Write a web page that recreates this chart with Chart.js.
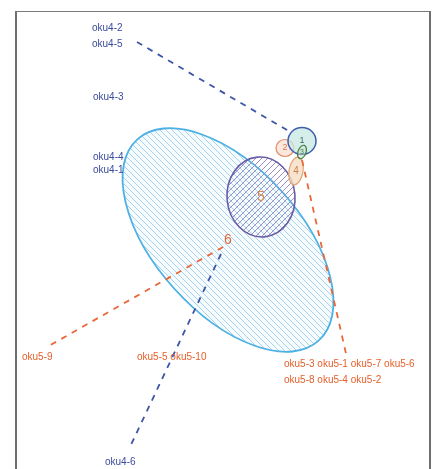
<!DOCTYPE html>
<html>
<head>
<meta charset="utf-8">
<script src="https://cdn.jsdelivr.net/npm/chart.js@4/dist/chart.umd.min.js"></script>
<style>
  html, body { margin: 0; padding: 0; background: #fff; }
  #wrap { position: relative; width: 432px; height: 469px; overflow: hidden; }
  #frame { position: absolute; left: 15px; top: 11px; width: 416px; height: 470px;
           border: 2px solid #6e6e6e; border-top: 1.5px solid #7a7a7a; border-bottom: none;
           box-sizing: border-box; pointer-events: none; }
  canvas { position: absolute; left: 0; top: 0; }
</style>
</head>
<body>
<div id="wrap">
  <canvas id="c" width="432" height="469"></canvas>
  <div id="frame"></div>
</div>
<script>
// Cluster ellipses (centre, semi-axes, rotation in degrees, counter-clockwise)
const clusterIds    = ['1', '2', '3', '4', '5', '6'];
const clusterX      = [1.48, 1.14, 1.48, 1.36, 0.66, 0.00];
const clusterY      = [1.98, 1.84, 1.76, 1.38, 0.86, 0.00];
const clusterMajor  = [0.28, 0.18, 0.14, 0.28, 0.80, 2.71];
const clusterMinor  = [0.27, 0.17, 0.08, 0.14, 0.68, 1.45];
const clusterAngle  = [0, 0, 70, 80, 95, -48];

// Leaf labels and where they sit
const leafGroupA  = ['oku4-2', 'oku4-5', 'oku4-3', 'oku4-4', 'oku4-1', 'oku4-6'];
const leafGroupAX = [-2.72, -2.72, -2.70, -2.70, -2.70, -2.46];
const leafGroupAY = [4.24, 3.92, 2.86, 1.66, 1.40, -4.44];

const leafGroupB  = ['oku5-9', 'oku5-5 oku5-10', 'oku5-3 oku5-1 oku5-7 oku5-6', 'oku5-8 oku5-4 oku5-2'];
const leafGroupBX = [-4.12, -1.82, 1.12, 1.12];
const leafGroupBY = [-2.34, -2.34, -2.48, -2.80];

// Connector segments from clusters to outlying leaves
const linkA1 = [[-1.82, 3.96], [1.28, 2.14]];
const linkA2 = [[-0.14, -0.28], [-1.98, -4.18]];
const linkB1 = [[1.48, 1.60], [2.38, -2.36]];
const linkB2 = [[-0.10, -0.14], [-3.62, -2.14]];

const BLUE_TXT = '#3b4b9e';
const RED_TXT = '#e5602c';

function hatch(color, dir, gap, bg) {
  const p = document.createElement('canvas');
  p.width = gap; p.height = gap;
  const g = p.getContext('2d');
  if (bg) { g.fillStyle = bg; g.fillRect(0, 0, gap, gap); }
  g.strokeStyle = color; g.lineWidth = 1;
  g.beginPath();
  if (dir === '\\') {
    g.moveTo(0, 0); g.lineTo(gap, gap);
    g.moveTo(-1, gap - 1); g.lineTo(1, gap + 1);
    g.moveTo(gap - 1, -1); g.lineTo(gap + 1, 1);
  } else {
    g.moveTo(0, gap); g.lineTo(gap, 0);
    g.moveTo(-1, 1); g.lineTo(1, -1);
    g.moveTo(gap - 1, gap + 1); g.lineTo(gap + 1, gap - 1);
  }
  g.stroke();
  return p;
}

const ctxMain = document.getElementById('c').getContext('2d');
const clusterStyle = [
  { stroke: '#3d5fae', fill: 'rgba(200,232,226,0.75)', width: 1.5, num: '#3f6a60', size: 9 },
  { stroke: '#e58a62', fill: 'rgba(248,222,208,0.7)', width: 1.2, num: '#e07a50', size: 9 },
  { stroke: '#3f7a4a', fill: 'rgba(200,225,200,0.5)', width: 1.2, num: '#3f7a4a', size: 7 },
  { stroke: '#e2a272', fill: 'rgba(245,222,196,0.8)', width: 1.2, num: '#d0804a', size: 10 },
  { stroke: '#6b5ca6', fill: ctxMain.createPattern(hatch('#9a8ec8', '/', 6), 'repeat'), width: 1.6, num: '#d4874f', size: 14 },
  { stroke: '#4cb1e2', fill: ctxMain.createPattern(hatch('#a9d2ee', '\\', 6, 'rgba(240,248,253,0.6)'), 'repeat'), width: 1.8, num: '#e2683a', size: 14 }
];

const drawOrder = [5, 4, 1, 3, 0, 2];

const ellipsePlugin = {
  id: 'clusterEllipses',
  beforeDatasetsDraw(chart) {
    const { ctx, scales: { x, y } } = chart;
    const ux = x.getPixelForValue(1) - x.getPixelForValue(0);
    const uy = y.getPixelForValue(0) - y.getPixelForValue(1);
    ctx.save();
    drawOrder.forEach(i => {
      const s = clusterStyle[i];
      const cx = x.getPixelForValue(clusterX[i]);
      const cy = y.getPixelForValue(clusterY[i]);
      ctx.beginPath();
      ctx.ellipse(cx, cy, clusterMajor[i] * ux, clusterMinor[i] * uy,
                  -clusterAngle[i] * Math.PI / 180, 0, Math.PI * 2);
      ctx.fillStyle = s.fill;
      ctx.fill();
      ctx.lineWidth = s.width;
      ctx.strokeStyle = s.stroke;
      ctx.stroke();
    });
    ctx.restore();
  },
  afterDatasetsDraw(chart) {
    const { ctx, scales: { x, y } } = chart;
    ctx.save();
    ctx.textBaseline = 'middle';
    ctx.textAlign = 'center';
    clusterIds.forEach((id, i) => {
      const s = clusterStyle[i];
      ctx.font = s.size + 'px "Liberation Sans", Arial, sans-serif';
      ctx.fillStyle = s.num;
      ctx.fillText(id, x.getPixelForValue(clusterX[i]), y.getPixelForValue(clusterY[i]));
    });
    ctx.textAlign = 'left';
    ctx.font = '10px "Liberation Sans", Arial, sans-serif';
    ctx.fillStyle = BLUE_TXT;
    leafGroupA.forEach((t, i) => ctx.fillText(t, x.getPixelForValue(leafGroupAX[i]), y.getPixelForValue(leafGroupAY[i])));
    ctx.fillStyle = RED_TXT;
    leafGroupB.forEach((t, i) => ctx.fillText(t, x.getPixelForValue(leafGroupBX[i]), y.getPixelForValue(leafGroupBY[i])));
    ctx.restore();
  }
};

function seg(points, color) {
  return {
    data: points.map(p => ({ x: p[0], y: p[1] })),
    showLine: true,
    borderColor: color,
    borderWidth: 1.8,
    borderDash: [6, 6],
    pointRadius: 0,
    fill: false
  };
}

new Chart(ctxMain, {
  type: 'scatter',
  data: {
    datasets: [
      seg(linkA1, '#3e55a8'),
      seg(linkA2, '#3e55a8'),
      seg(linkB1, '#e8683a'),
      seg(linkB2, '#e8683a')
    ]
  },
  options: {
    responsive: false,
    animation: false,
    devicePixelRatio: 1,
    layout: { padding: 0 },
    plugins: { legend: { display: false }, tooltip: { enabled: false } },
    scales: {
      x: { type: 'linear', display: false, min: -4.56, max: 4.08 },
      y: { type: 'linear', display: false, min: -4.58, max: 4.80 }
    }
  },
  plugins: [ellipsePlugin]
});
</script>
</body>
</html>
